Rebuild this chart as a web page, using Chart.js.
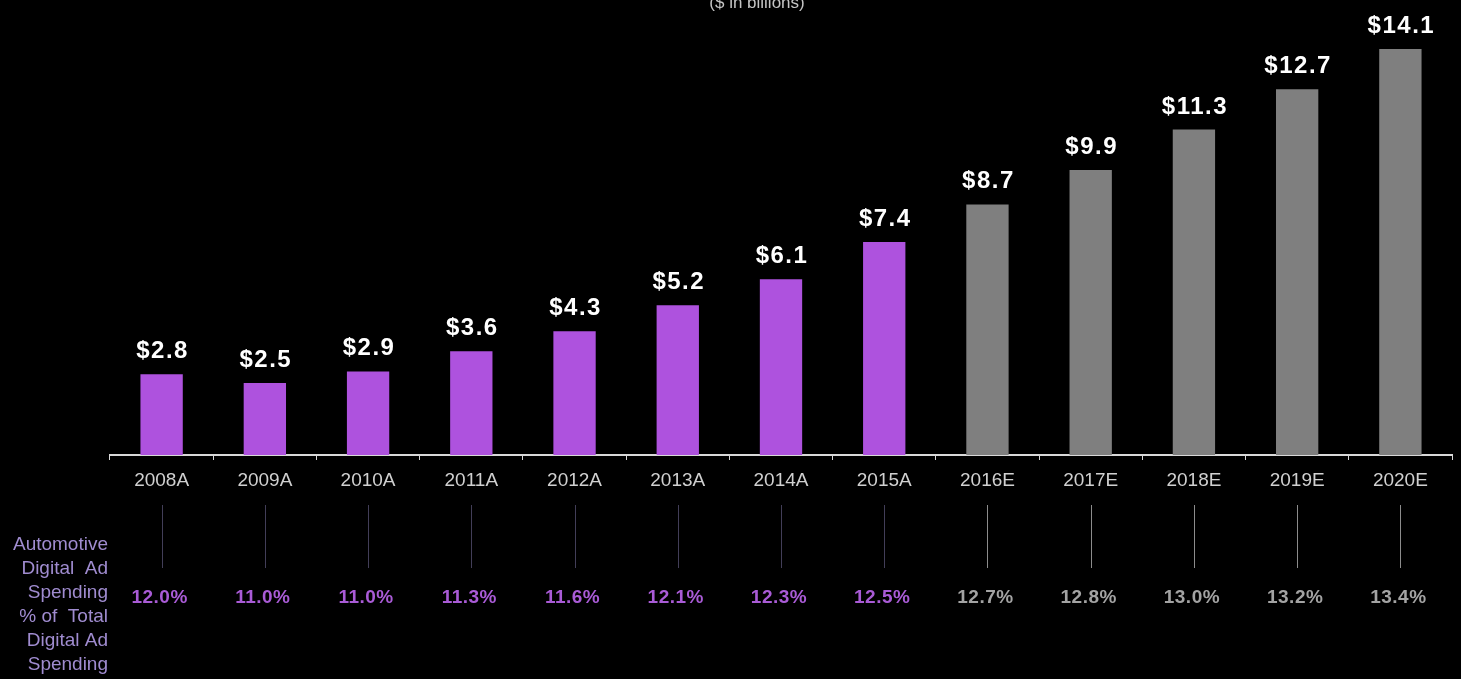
<!DOCTYPE html>
<html>
<head>
  <title>Automotive Digital Ad Spending</title>
  <script src="https://cdn.jsdelivr.net/npm/chart.js"></script>
  <style>
    body { margin: 0; background: #000; }
    #wrap { width: 1461px; height: 679px; }
  </style>
</head>
<body>
  <div id="wrap">
    <canvas id="spendChart" width="1461" height="679"></canvas>
  </div>

  <script>
    // years, 'A' = actual, 'E' = estimate
    const years = ['2008A', '2009A', '2010A', '2011A', '2012A', '2013A', '2014A',
                   '2015A', '2016E', '2017E', '2018E', '2019E', '2020E'];
    // automotive digital ad spending, $ in billions
    const spend = [2.8, 2.5, 2.9, 3.6, 4.3, 5.2, 6.1, 7.4, 8.7, 9.9, 11.3, 12.7, 14.1];
    // share of total digital ad spending, %
    const share = [12.0, 11.0, 11.0, 11.3, 11.6, 12.1, 12.3, 12.5, 12.7, 12.8, 13.0, 13.2, 13.4];
    const sideLabel = ['Automotive', 'Digital  Ad', 'Spending', '% of  Total', 'Digital Ad', 'Spending'];

    const PURPLE = '#ae52de';
    const GREY = '#7f7f7f';
    const isEst = years.map(y => y.endsWith('E'));

    const extras = {
      id: 'extras',
      afterDatasetsDraw(chart) {
        const ctx = chart.ctx;
        const x = chart.scales.x;
        const meta = chart.getDatasetMeta(0);
        ctx.save();

        // subtitle, cut by the top edge
        ctx.fillStyle = '#c4c4c4';
        ctx.font = '17px "Liberation Sans", Arial, sans-serif';
        ctx.textAlign = 'center';
        ctx.textBaseline = 'alphabetic';
        ctx.fillText('($ in billions)', 757, 8);

        // value labels above bars
        ctx.fillStyle = '#fff';
        ctx.font = 'bold 24px "Liberation Sans", Arial, sans-serif';
        ctx.letterSpacing = '1.5px';
        meta.data.forEach((bar, i) => {
          ctx.fillText('$' + spend[i].toFixed(1), bar.x + 1, bar.y - 16);
        });

        // connector lines and percentage row
        ctx.letterSpacing = '0.5px';
        years.forEach((y, i) => {
          const cx = x.getPixelForValue(i);
          ctx.strokeStyle = isEst[i] ? '#8c8c8c' : '#423e58';
          ctx.lineWidth = 1;
          ctx.beginPath();
          ctx.moveTo(Math.round(cx) + 0.5, 505);
          ctx.lineTo(Math.round(cx) + 0.5, 568);
          ctx.stroke();

          ctx.fillStyle = isEst[i] ? '#a3a3a3' : '#a95bd6';
          ctx.font = 'bold 19px "Liberation Sans", Arial, sans-serif';
          ctx.fillText(share[i].toFixed(1) + '%', cx - 2, 603);
        });

        // row caption on the left
        ctx.letterSpacing = '0px';
        ctx.fillStyle = '#a08cd0';
        ctx.font = '19px "Liberation Sans", Arial, sans-serif';
        ctx.textAlign = 'right';
        sideLabel.forEach((t, i) => {
          ctx.fillText(t, 108, 550 + i * 24);
        });

        ctx.restore();
      }
    };

    new Chart(document.getElementById('spendChart'), {
      type: 'bar',
      data: {
        labels: years,
        datasets: [{
          data: spend,
          backgroundColor: isEst.map(e => e ? GREY : PURPLE),
          categoryPercentage: 1,
          barPercentage: 0.41
        }]
      },
      options: {
        responsive: false,
        animation: false,
        devicePixelRatio: 1,
        layout: { padding: { top: 23, left: 110, right: 9, bottom: 0 } },
        plugins: {
          legend: { display: false },
          title: { display: false },
          tooltip: { enabled: false }
        },
        scales: {
          x: {
            afterFit: s => { s.height = 224; },
            grid: {
              display: true,
              drawOnChartArea: false,
              offset: true,
              tickLength: 5,
              color: '#d8d8d8',
              lineWidth: 1
            },
            border: { color: '#d8d8d8', width: 2 },
            ticks: {
              color: '#d0d0d0',
              padding: 9,
              font: { family: '"Liberation Sans", Arial, sans-serif', size: 19 }
            }
          },
          y: {
            display: false,
            min: 0,
            max: 15
          }
        }
      },
      plugins: [extras]
    });
  </script>
</body>
</html>
